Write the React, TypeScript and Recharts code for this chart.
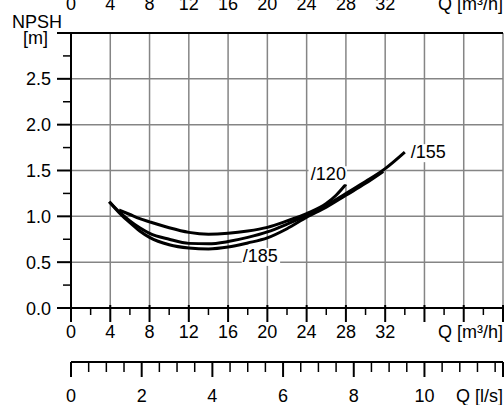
import React from 'react';
import { LineChart, Line, XAxis, YAxis, CartesianGrid } from 'recharts';

// NPSH curves: Q [m³/h] -> NPSH [m]
const curve120 = [
  { q: 4.9, h: 1.07 }, { q: 6, h: 1.02 }, { q: 7, h: 0.975 }, { q: 8, h: 0.94 },
  { q: 10, h: 0.875 }, { q: 12, h: 0.825 }, { q: 14, h: 0.805 }, { q: 16, h: 0.815 },
  { q: 18, h: 0.84 }, { q: 20, h: 0.88 }, { q: 22, h: 0.95 }, { q: 24, h: 1.03 },
  { q: 26, h: 1.14 }, { q: 27, h: 1.23 }, { q: 28, h: 1.35 },
];
const curve155 = [
  { q: 3.9, h: 1.16 }, { q: 5, h: 1.04 }, { q: 6, h: 0.95 }, { q: 7, h: 0.875 },
  { q: 8, h: 0.815 }, { q: 10, h: 0.75 }, { q: 12, h: 0.705 }, { q: 14, h: 0.7 },
  { q: 16, h: 0.725 }, { q: 18, h: 0.77 }, { q: 20, h: 0.83 }, { q: 22, h: 0.915 },
  { q: 24, h: 1.01 }, { q: 26, h: 1.12 }, { q: 28, h: 1.25 }, { q: 30, h: 1.38 },
  { q: 32, h: 1.52 }, { q: 34, h: 1.7 },
];
const curve185 = [
  { q: 3.9, h: 1.16 }, { q: 5, h: 1.03 }, { q: 6, h: 0.93 }, { q: 7, h: 0.84 },
  { q: 8, h: 0.77 }, { q: 10, h: 0.69 }, { q: 12, h: 0.655 }, { q: 14, h: 0.645 },
  { q: 16, h: 0.665 }, { q: 18, h: 0.71 }, { q: 20, h: 0.765 }, { q: 22, h: 0.865 },
  { q: 24, h: 0.99 }, { q: 26, h: 1.1 }, { q: 28, h: 1.23 }, { q: 30, h: 1.36 },
  { q: 31.8, h: 1.49 },
];
const seriesNames = ['/120', '/155', '/185'];
const label185AtQ = 18;

const qTicks = [0, 2, 4, 6, 8, 10, 12, 14, 16, 18, 20, 22, 24, 26, 28, 30, 32, 34, 36, 38, 40, 42, 44];
const qTopTicks = [0, 4, 8, 12, 16, 20, 24, 28, 32, 36, 40, 44];
const qMaxLabeled = 32;
const qMax = 44;
const M3H_PER_LS = 3.6;
const lsTicks = [0, 0.5, 1, 1.5, 2, 2.5, 3, 3.5, 4, 4.5, 5, 5.5, 6, 6.5, 7, 7.5, 8, 8.5, 9, 9.5, 10, 10.5, 11, 11.5, 12];
const lsMaxLabeled = 10;
const hTicks = [0, 0.25, 0.5, 0.75, 1, 1.25, 1.5, 1.75, 2, 2.25, 2.5, 2.75, 3];
const gridQ = [4, 8, 12, 16, 20, 24, 28, 32, 36, 40, 44];
const gridH = [0.5, 1, 1.5, 2, 2.5];
const qUnit = 'Q [m³/h]';
const lsUnit = 'Q [l/s]';
const yTitle = 'NPSH';
const yUnit = '[m]';

// l/s ticks expressed on the m³/h scale, plus the axis end
const lsTicksOnQ = [...lsTicks.map((v) => v * M3H_PER_LS), qMax];

const FONT = '"Liberation Sans", Arial, sans-serif';
const FS = 18;
const GRID = '#858585';

const txt = (x: number, y: number, s: string, anchor: string = 'middle') => (
  <text x={x} y={y} textAnchor={anchor} fontFamily={FONT} fontSize={FS} fill="#000">{s}</text>
);

const TopTick = (p: any) => {
  const v = p.payload.value;
  if (v === qMax) return <g>{txt(p.x, p.y - 23, qUnit, 'end')}</g>;
  if (v <= qMaxLabeled) return <g>{txt(p.x, p.y - 23, String(v))}</g>;
  return <g />;
};

const QTick = (p: any) => {
  const v = p.payload.value;
  const major = v % 4 === 0;
  return (
    <g>
      {major ? (
        <line x1={p.x} x2={p.x} y1={p.y - 3} y2={p.y + 14} stroke="#000" strokeWidth={2} />
      ) : (
        <line x1={p.x} x2={p.x} y1={p.y} y2={p.y + 7} stroke="#000" strokeWidth={1.5} />
      )}
      {major && v <= qMaxLabeled ? txt(p.x, p.y + 30, String(v)) : null}
      {v === qMax ? txt(p.x, p.y + 30, qUnit, 'end') : null}
    </g>
  );
};

const LsTick = (p: any) => {
  const qv = p.payload.value;
  const isEnd = Math.abs(qv - qMax) < 1e-6;
  const v = Math.round((qv / M3H_PER_LS) * 2) / 2;
  const labeled = !isEnd && v % 2 === 0 && v <= lsMaxLabeled;
  const major = isEnd || labeled;
  return (
    <g>
      <line x1={p.x} x2={p.x} y1={p.y} y2={p.y + (major ? 15 : 10)} stroke="#000" strokeWidth={major ? 2 : 1.5} />
      {labeled ? txt(p.x, p.y + 40, String(v)) : null}
      {isEnd ? txt(p.x, p.y + 40, lsUnit, 'end') : null}
    </g>
  );
};

const YTick = (p: any) => {
  const v = p.payload.value;
  const major = Math.abs(v * 2 - Math.round(v * 2)) < 1e-9;
  return (
    <g>
      <line x1={p.x - (major ? 14 : 8)} x2={p.x} y1={p.y} y2={p.y} stroke="#000" strokeWidth={major ? 2 : 1.5} />
      {major && v < 3 ? txt(p.x - 20, p.y + 6.5, v.toFixed(1), 'end') : null}
      {v === 3 ? (
        <g>
          {txt(p.x - 23, p.y + 11, yUnit, 'end')}
          {txt(p.x - 9, p.y - 5, yTitle, 'end')}
        </g>
      ) : null}
    </g>
  );
};

const boxLabel = (x: number, y: number, s: string, anchor: string) => {
  const w = s.length * 8.6 + 2;
  const left = anchor === 'end' ? x - w : x;
  return (
    <g>
      <rect x={left - 1} y={y - 14} width={w + 2} height={18} fill="#fff" />
      {txt(x, y, s, anchor)}
    </g>
  );
};

const makeLabel = (which: number) => (p: any) => {
  const { x, y, index } = p;
  if (which === 0 && index === curve120.length - 1) return boxLabel(x, y - 4, seriesNames[0], 'end');
  if (which === 1 && index === curve155.length - 1) return boxLabel(x + 6, y + 6, seriesNames[1], 'start');
  if (which === 2 && curve185[index] && curve185[index].q === label185AtQ) return boxLabel(x - 5, y + 19, seriesNames[2], 'start');
  return <g key={`l${which}-${index}`} />;
};

export default function App() {
  return (
    <div style={{ position: 'absolute', left: 0, top: 0, width: 504, height: 405, background: '#fff' }}>
      <LineChart width={504} height={405} margin={{ top: 0, right: 1, bottom: 0, left: 0 }}>
        <CartesianGrid
          xAxisId="a"
          stroke={GRID}
          strokeWidth={1.5}
          horizontalValues={gridH}
          verticalValues={gridQ}
        />
        <XAxis
          xAxisId="top"
          orientation="top"
          type="number"
          dataKey="q"
          domain={[0, qMax]}
          ticks={qTopTicks}
          height={33}
          tickSize={0}
          tickMargin={0}
          tickLine={false}
          axisLine={{ stroke: '#000', strokeWidth: 2 }}
          tick={TopTick}
          interval={0}
          allowDataOverflow
        />
        <XAxis
          xAxisId="b"
          type="number"
          dataKey="q"
          domain={[0, qMax]}
          ticks={lsTicksOnQ}
          height={43}
          tickSize={0}
          tickMargin={0}
          tickLine={false}
          axisLine={{ stroke: '#000', strokeWidth: 2 }}
          tick={LsTick}
          interval={0}
          allowDataOverflow
        />
        <XAxis
          xAxisId="a"
          type="number"
          dataKey="q"
          domain={[0, qMax]}
          ticks={qTicks}
          height={54}
          tickSize={0}
          tickMargin={0}
          tickLine={false}
          axisLine={{ stroke: '#000', strokeWidth: 2 }}
          tick={QTick}
          interval={0}
          allowDataOverflow
        />
        <YAxis
          type="number"
          domain={[0, 3]}
          ticks={hTicks}
          width={71}
          tickSize={0}
          tickMargin={0}
          tickLine={false}
          axisLine={{ stroke: '#000', strokeWidth: 2 }}
          tick={YTick}
          interval={0}
          allowDataOverflow
        />
        <Line xAxisId="a" data={curve120} dataKey="h" type="monotone" stroke="#000" strokeWidth={3} dot={false} isAnimationActive={false} label={makeLabel(0)} />
        <Line xAxisId="a" data={curve155} dataKey="h" type="monotone" stroke="#000" strokeWidth={3} dot={false} isAnimationActive={false} label={makeLabel(1)} />
        <Line xAxisId="a" data={curve185} dataKey="h" type="monotone" stroke="#000" strokeWidth={3} dot={false} isAnimationActive={false} label={makeLabel(2)} />
      </LineChart>
    </div>
  );
}
